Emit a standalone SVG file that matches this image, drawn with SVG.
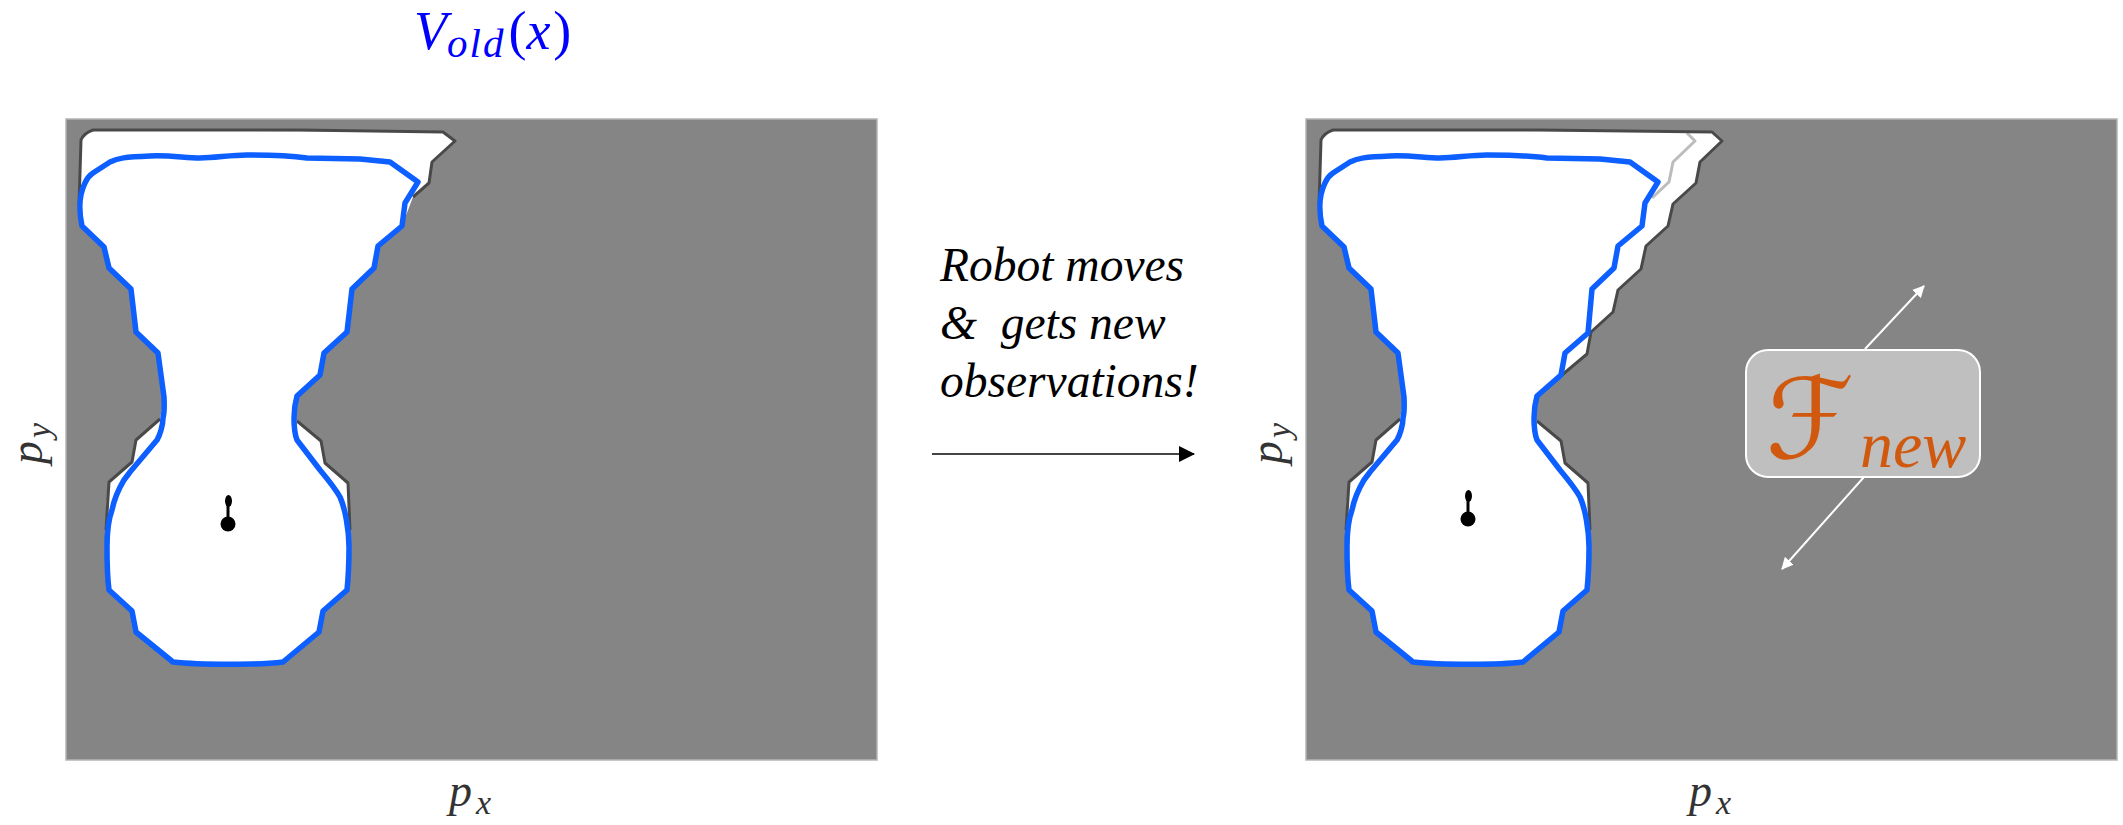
<svg xmlns="http://www.w3.org/2000/svg" width="2123" height="825" viewBox="0 0 2123 825">
<style>
.bg{fill:#858585;stroke:#b4b4b4;stroke-width:1.5}
.free{fill:#fff;stroke:none}
.edge{fill:none;stroke:#4a4a4a;stroke-width:3;stroke-linejoin:round}
.old{fill:none;stroke:#bcbcbc;stroke-width:3;stroke-linejoin:round}
.val{fill:none;stroke:#0a5fff;stroke-width:5.500;stroke-linejoin:round}
.soft{filter:url(#soft)}
.ax{font-family:"Liberation Serif",serif;font-style:italic;fill:#333;font-size:46px}
.ax .s{font-size:34px}
.cap{font-family:"Liberation Serif",serif;font-style:italic;fill:#000;font-size:47.500px}
.wh{stroke:#fff;stroke-width:2;fill:none}
</style>
<defs>
<filter id="soft" x="-5%" y="-5%" width="110%" height="110%"><feGaussianBlur stdDeviation="0.6"/></filter>
<marker id="hb" markerWidth="12" markerHeight="12" refX="11" refY="6" orient="auto" markerUnits="userSpaceOnUse" viewBox="0 0 12 12"><path d="M0 0L12 6L0 12Z" fill="#fff"/></marker>
<marker id="hk" markerWidth="16" markerHeight="16" refX="15" refY="8" orient="auto" markerUnits="userSpaceOnUse" viewBox="0 0 16 16"><path d="M0 0L16 8L0 16Z" fill="#000"/></marker>
</defs>

<g id="panel-left">
<rect class="bg" x="66" y="119" width="811" height="641"/>
<g class="soft">
<path class="free" d="M81 140Q84 133 93 130L443 132L455 141L432 162L429 183L413 197L402 226L378 246L374 268L352 289L347 332L324 353L320 375L297 396L294 418L321 441L325 463L348 483L350 530L347 590L323 611L319 632L283 662C260 665 200 665 173 662L136 632L132 611L109 590L106 508L109 482L132 462L136 440L160 419L164 397L158 353L136 332L131 289L109 268L104 247L82 226L79 205Z"/>
<path class="edge" d="M79 205L81 140Q84 133 93 130L300 130L443 132L455 141L432 162L429 183L413 197"/>
<path class="edge" d="M160 419L136 440L132 462L109 482L106 530"/>
<path class="edge" d="M297 421L321 441L325 463L348 483L350 530"/>
<path class="val" d="M82 226C79 212 79 195 85 183C87 178 90 175 93 173L110 162C118 158 125 157 150 156C170 155 185 158 200 158C215 158 230 155 247 155C265 155 285 155 307 158L360 159L390 162L418 182L405 203L402 226L378 246L374 268L352 289L347 332L324 353L320 375L297 396C295 403 294 410 294 418C294 428 295 435 297 440L320 470C330 482 335 488 340 497C345 508 349 530 349 547C349 565 348 580 347 590L323 611L319 632L283 662C260 665 200 665 173 662L136 632L132 611L109 590C107 575 107 560 107 547C107 530 109 518 112 510C114 500 118 490 124 480L130 472L157 440C160 435 163 425 163 418C165 410 164 400 164 397L158 353L136 332L131 289L109 268L104 247Z"/>
<circle cx="228" cy="524" r="7.500" fill="#000"/>
<path d="M228 524V504" stroke="#000" stroke-width="3"/>
<ellipse cx="228.500" cy="501" rx="3.500" ry="6" fill="#000"/>
</g>
</g>

<g id="panel-right">
<rect class="bg" x="1306" y="119" width="811" height="641"/>
<g class="soft" transform="translate(1240 0)">
<path class="free" d="M81 140Q84 133 93 130L472 132L482 141L460 162L456 183L433 204L428 226L406 246L401 269L378 290L373 312L351 332L347 354L322 375L297 396L294 418L321 441L325 463L348 483L350 530L347 590L323 611L319 632L283 662C260 665 200 665 173 662L136 632L132 611L109 590L106 508L109 482L132 462L136 440L160 419L164 397L158 353L136 332L131 289L109 268L104 247L82 226L79 205Z"/>
<path class="old" d="M447 133L455 141L433 162L429 182L412 198"/>
<path class="edge" d="M79 205L81 140Q84 133 93 130L300 130L472 132L482 141L460 162L456 183L433 204L428 226L406 246L401 269L378 290L373 312L351 332L347 354L322 375"/>
<path class="edge" d="M160 419L136 440L132 462L109 482L106 530"/>
<path class="edge" d="M297 421L321 441L325 463L348 483L350 530"/>
<path class="val" d="M82 226C79 212 79 195 85 183C87 178 90 175 93 173L110 162C118 158 125 157 150 156C170 155 185 158 200 158C215 158 230 155 247 155C265 155 285 155 307 158L360 159L390 162L418 182L405 203L402 226L378 246L374 268L352 289L348 333L325 353L321 375L297 396C295 403 294 410 294 418C294 428 295 435 297 440L320 470C330 482 335 488 340 497C345 508 349 530 349 547C349 565 348 580 347 590L323 611L319 632L283 662C260 665 200 665 173 662L136 632L132 611L109 590C107 575 107 560 107 547C107 530 109 518 112 510C114 500 118 490 124 480L130 472L157 440C160 435 163 425 163 418C165 410 164 400 164 397L158 353L136 332L131 289L109 268L104 247Z"/>
<circle cx="228" cy="519" r="7.500" fill="#000"/>
<path d="M228 519V499" stroke="#000" stroke-width="3"/>
<ellipse cx="228.500" cy="496" rx="3.500" ry="6" fill="#000"/>
</g>
</g>

<g id="connectors">
<line x1="932" y1="454" x2="1194" y2="454" stroke="#444" stroke-width="2" marker-end="url(#hk)"/>
<line class="wh" x1="1865" y1="349" x2="1924" y2="286" marker-end="url(#hb)"/>
<line class="wh" x1="1864" y1="477" x2="1782" y2="569" marker-end="url(#hb)"/>
</g>

<g id="node-fnew">
<rect x="1746" y="350" width="234" height="127" rx="22" fill="#bfbfbf" stroke="#fff" stroke-width="2"/>
<text x="1766" y="458" font-family="'DejaVu Sans',sans-serif" font-size="112" fill="#d0590f">ℱ<tspan font-family="'Liberation Serif',serif" font-style="italic" font-size="66" dy="9" dx="6">new</tspan></text>
</g>

<g id="label-vold" fill="#0000ff" font-family="'Liberation Serif',serif">
<text x="414" y="49" font-size="54"><tspan font-style="italic">V</tspan><tspan font-size="41" font-style="italic" dy="8" letter-spacing="2">old</tspan><tspan dy="-8" dx="3">(</tspan><tspan font-style="italic">x</tspan><tspan dx="3">)</tspan></text>
</g>

<g id="caption" class="cap">
<text x="940" y="281">Robot moves</text>
<text x="940" y="339" xml:space="preserve">&amp;  gets new</text>
<text x="940" y="397">observations!</text>
</g>

<g id="axes" class="ax">
<text x="449" y="806">p<tspan class="s" dx="4" dy="8">x</tspan></text>
<text x="1689" y="806">p<tspan class="s" dx="4" dy="8">x</tspan></text>
<text transform="translate(42 464) rotate(-90)">p<tspan class="s" dx="3" dy="8">y</tspan></text>
<text transform="translate(1282 464) rotate(-90)">p<tspan class="s" dx="3" dy="8">y</tspan></text>
</g>
</svg>
